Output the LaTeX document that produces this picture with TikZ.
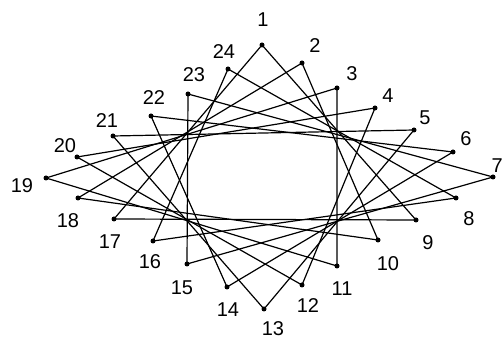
\documentclass[tikz,border=0pt]{standalone}
\usepackage{fontspec}
\setmainfont{Liberation Sans}
\begin{document}
\begin{tikzpicture}[x=1pt,y=-1pt,
  dot/.style={circle,fill=black,inner sep=0pt,minimum size=5pt},
  lbl/.style={font=\fontsize{20}{20}\selectfont,inner sep=0pt},
  edge/.style={line width=1.2pt,line join=round}]
\useasboundingbox (0,0) rectangle (504,347);
\fill[white] (0,0) rectangle (504,347);
% points
\foreach \n/\x/\y in {1/262/45,2/302/63,3/337/88,4/375/108,5/414/130,6/453/152,
  7/493/177,8/456/198,9/416/220,10/378/240,11/337/266,12/302/285,13/264/309,
  14/227/287,15/187/264,16/153/241,17/114/219,18/78/198,19/46/178,20/77/157,
  21/113/136,22/151/116,23/188/94,24/228/69}
  \node[dot] (p\n) at (\x,\y) {};
% labels
\foreach \n/\x/\y in {1/263/20,2/315/46,3/352/74,4/388/96,5/425/118,6/466/139,
  8/469/219,9/428/243,10/388/264,11/342/289,12/308/306,13/273/329,
  14/228/310,15/182/288,16/150/262,17/110/242,18/68/221,19/22/186,20/65/146,
  21/107/121,22/154/98,23/194/75,24/224/52}
  \node[lbl] (l\n) at (\x,\y) {\n};
\node[lbl,anchor=north east] (l7) at (503,159) {7};
% 8 triangles of the {24/8} star
\foreach \a/\b/\c in {1/9/17,2/10/18,3/11/19,4/12/20,5/13/21,6/14/22,7/15/23,8/16/24}
  \draw[edge] (p\a.center) -- (p\b.center) -- (p\c.center) -- cycle;
\end{tikzpicture}
\end{document}
